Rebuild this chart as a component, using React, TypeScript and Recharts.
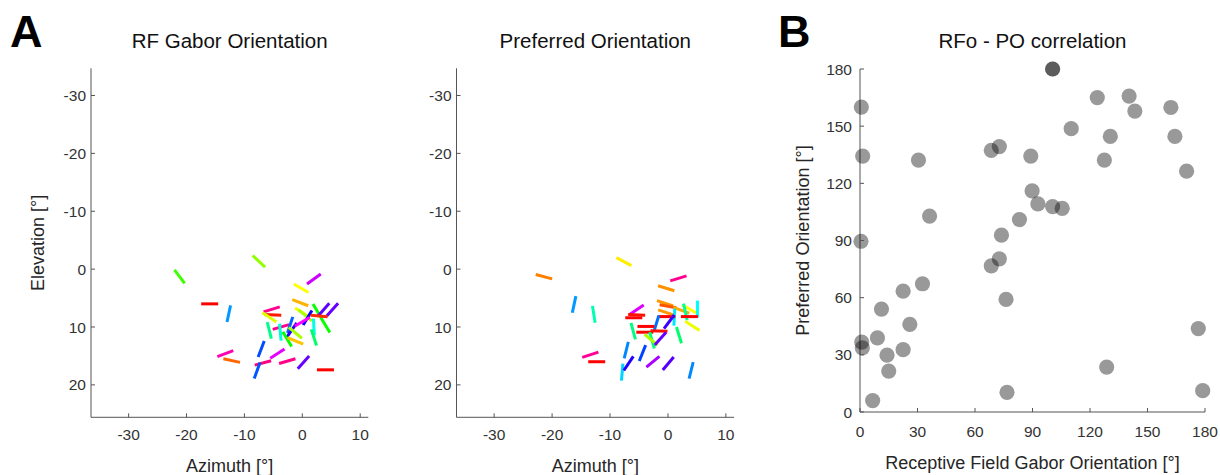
import React from 'react';
import { ScatterChart, Scatter, XAxis, YAxis } from 'recharts';

const FONT = '"Liberation Sans", Arial, Helvetica, sans-serif';

// ---- Panel A (left): RF Gabor orientation map ----
const rfAzimuth = [-21.2, -7.5, 2.0, -0.2, -0.35, 0.0, 0.5, 2.6, 4.0, 3.7, 5.2, 0.9, 2.9, -5.3, -5.1, -5.7, -3.7, -5.7, -3.8, -2.1, -1.8, -2.6, -1.2, -1.2, 2.0, 2.0, -7.1, -4.3, -6.8, -2.6, 0.2, 4.0, -7.8, -16.0, -12.7, -13.3, -12.2, 0.0];
const rfElevation = [1.3, -1.35, 1.7, 3.3, 5.8, 7.5, 8.0, 7.3, 9.7, 7.0, 7.0, 8.4, 8.1, 6.95, 7.9, 8.3, 10.0, 10.6, 10.9, 9.65, 10.5, 12.1, 11.0, 12.4, 10.0, 11.8, 13.8, 14.6, 16.2, 15.9, 16.1, 17.4, 17.5, 6.0, 7.7, 14.6, 15.8, 9.1];
const rfOrientation = [53, 43, 144, 30, 21, 32, 40, 59, 59, 131, 132, 121, 5, 163, 3, 34, 164, 76, 85, 108, 125, 59, 40, 23, 87, 72, 111, 147, 165, 164, 132, 0, 110, 0, 102, 159, 12, 150];

// ---- Panel A (right): preferred orientation map ----
const poAzimuth = [-21.4, -7.6, -16.2, -12.8, -13.4, -12.3, -7.9, -6.8, -7.2, -4.4, -2.6, 0.05, 4.0, 1.8, -0.3, -0.5, 0.0, -0.3, 2.3, 3.7, 5.1, 3.0, 3.7, 4.2, 1.1, -0.2, -5.4, -5.9, -5.4, -2.0, 0.2, -3.8, -4.0, -1.55, -6.0, -2.75, -2.9, -1.3, 1.9];
const poElevation = [1.3, -1.3, 6.1, 7.8, 14.8, 16.0, 17.8, 16.3, 14.0, 14.5, 16.0, 16.3, 17.5, 1.6, 3.3, 5.9, 6.4, 7.5, 7.1, 6.9, 6.9, 7.4, 8.2, 9.8, 8.3, 8.2, 7.0, 8.4, 7.9, 9.4, 9.1, 9.9, 10.9, 10.7, 10.7, 12.3, 12.2, 12.0, 11.4];
const poOrientation = [15, 28, 102, 81, 162, 0, 95, 124, 104, 112, 140, 130, 104, 163, 17, 18, 10, 18, 20, 30, 90, 78, 0, 32, 93, 0, 146, 0, 2, 107, 127, 0, 0, 2, 75, 74, 40, 132, 73];

const mapXTicks = [-30, -20, -10, 0, 10];
const mapYTicks = [-30, -20, -10, 0, 10, 20];

// ---- Panel B: RFo - PO correlation ----
const corrRFo = [100.5, 100.5, 0.7, 1.4, 30.5, 36.3, 68.5, 72.7, 89.1, 89.8, 92.8, 100.5, 105.5, 83.2, 110.2, 123.8, 140.4, 143.4, 130.6, 127.5, 162.2, 164.3, 170.4, 73.8, 0.5, 72.7, 68.5, 32.6, 22.5, 76.2, 11.2, 26, 176.5, 9.1, 0.9, 1.2, 22.5, 14.1, 128.7, 15, 76.7, 178.8, 6.6];
const corrPO = [180, 180, 160, 134.3, 132.2, 102.8, 137.3, 139.3, 134.3, 116, 109.2, 107.8, 106.9, 101, 148.7, 165, 165.8, 157.9, 144.6, 132.2, 159.8, 144.6, 126.4, 92.8, 89.6, 80.4, 76.7, 67.3, 63.4, 59.1, 54, 46, 43.8, 38.9, 36.7, 33.7, 32.7, 29.8, 23.6, 21.5, 10.3, 11.2, 6];
const corrTicks = [0, 30, 60, 90, 120, 150, 180];

const rfData = rfAzimuth.map((az, i) => ({ az, el: rfElevation[i], ori: rfOrientation[i] }));
const poData = poAzimuth.map((az, i) => ({ az, el: poElevation[i], ori: poOrientation[i] }));
const corrData = corrRFo.map((rfo, i) => ({ rfo, po: corrPO[i] }));

const AXIS = '#555555';
const TICK_TEXT = '#333333';
const TICK_FS = 15.5;

const makeXTick = (labelOffset: number) => (props: any) => {
  const { x, y, payload } = props;
  return (
    <g>
      <line x1={x} y1={y} x2={x} y2={y - 4} stroke={AXIS} strokeWidth={1} />
      <text x={x} y={y + labelOffset} textAnchor="middle" fontSize={TICK_FS} fill={TICK_TEXT} fontFamily={FONT}>
        {String(payload.value)}
      </text>
    </g>
  );
};

const makeYTick = (gap: number) => (props: any) => {
  const { x, y, payload } = props;
  return (
    <g>
      <line x1={x} y1={y} x2={x + 4} y2={y} stroke={AXIS} strokeWidth={1} />
      <text x={x - gap} y={y + 5.5} textAnchor="end" fontSize={TICK_FS} fill={TICK_TEXT} fontFamily={FONT}>
        {String(payload.value)}
      </text>
    </g>
  );
};

const SegmentShape = (props: any) => {
  const { cx, cy, payload } = props;
  if (cx == null || cy == null) return <g />;
  const t = (payload.ori * Math.PI) / 180;
  const h = 8.5;
  const dx = h * Math.cos(t);
  const dy = h * Math.sin(t);
  return (
    <line
      x1={cx - dx}
      y1={cy - dy}
      x2={cx + dx}
      y2={cy + dy}
      stroke={`hsl(${(2 * payload.ori) % 360}, 100%, 50%)`}
      strokeWidth={3}
    />
  );
};

const DotShape = (props: any) => {
  const { cx, cy } = props;
  if (cx == null || cy == null) return <g />;
  return <circle cx={cx} cy={cy} r={7.6} fill="#000" fillOpacity={0.4} />;
};

const xTickA = makeXTick(22.5);
const yTickA = makeYTick(5);
const xTickB = makeXTick(25);
const yTickB = makeYTick(8);

const MapPanel = ({ data, left, width, marginLeft, marginRight }: any) => (
  <div style={{ position: 'absolute', left, top: 0 }}>
    <ScatterChart width={width} height={475} margin={{ top: 68.3, left: marginLeft - 1, right: marginRight, bottom: 56.7 }}>
      <XAxis
        type="number"
        dataKey="az"
        domain={[-36.5, 11.4]}
        ticks={mapXTicks}
        interval={0}
        tickSize={0}
        tickMargin={0}
        tickLine={false}
        tick={xTickA}
        axisLine={{ stroke: AXIS, strokeWidth: 1 }}
        height={1}
      />
      <YAxis
        type="number"
        dataKey="el"
        domain={[-34.7, 25.6]}
        reversed
        ticks={mapYTicks}
        interval={0}
        tickSize={0}
        tickMargin={0}
        tickLine={false}
        tick={yTickA}
        axisLine={{ stroke: AXIS, strokeWidth: 1 }}
        width={1}
      />
      <Scatter data={data} shape={SegmentShape} isAnimationActive={false} />
    </ScatterChart>
  </div>
);

export default function App() {
  return (
    <div style={{ position: 'absolute', left: 0, top: 0, width: 1220, height: 475, background: '#fff', fontFamily: FONT }}>
      <MapPanel data={rfData} left={0} width={400} marginLeft={91} marginRight={31.7} />
      <MapPanel data={poData} left={400} width={380} marginLeft={56.5} marginRight={46} />
      <div style={{ position: 'absolute', left: 780, top: 0 }}>
        <ScatterChart width={440} height={475} margin={{ top: 69, left: 79, right: 15, bottom: 62 }}>
          <XAxis
            type="number"
            dataKey="rfo"
            domain={[0, 180]}
            ticks={corrTicks}
            interval={0}
            tickSize={0}
            tickMargin={0}
            tickLine={false}
            tick={xTickB}
            axisLine={{ stroke: AXIS, strokeWidth: 1 }}
            height={1}
          />
          <YAxis
            type="number"
            dataKey="po"
            domain={[0, 180]}
            ticks={corrTicks}
            interval={0}
            tickSize={0}
            tickMargin={0}
            tickLine={false}
            tick={yTickB}
            axisLine={{ stroke: AXIS, strokeWidth: 1 }}
            width={1}
          />
          <Scatter data={corrData} shape={DotShape} isAnimationActive={false} />
        </ScatterChart>
      </div>
      <svg width={1220} height={475} style={{ position: 'absolute', left: 0, top: 0, pointerEvents: 'none' }} fontFamily={FONT}>
        <text x={10} y={47} fontSize={45} fontWeight="bold" fill="#000">A</text>
        <text x={778} y={47} fontSize={45} fontWeight="bold" fill="#000">B</text>
        <text x={229.7} y={47.5} fontSize={20.5} textAnchor="middle" fill="#111">RF Gabor Orientation</text>
        <text x={595.3} y={47.5} fontSize={20.5} textAnchor="middle" fill="#111">Preferred Orientation</text>
        <text x={1032.5} y={47.5} fontSize={20.5} textAnchor="middle" fill="#111">RFo - PO correlation</text>
        <text x={229.7} y={472} fontSize={18} textAnchor="middle" fill="#262626">Azimuth [°]</text>
        <text x={595.3} y={472} fontSize={18} textAnchor="middle" fill="#262626">Azimuth [°]</text>
        <text x={1032.5} y={469} fontSize={18} textAnchor="middle" fill="#262626">Receptive Field Gabor Orientation [°]</text>
        <text x={44} y={242.8} fontSize={18} textAnchor="middle" fill="#262626" transform="rotate(-90 44 242.8)">Elevation [°]</text>
        <text x={809} y={240.5} fontSize={18} textAnchor="middle" fill="#262626" transform="rotate(-90 809 240.5)">Preferred Orientation [°]</text>
      </svg>
    </div>
  );
}
